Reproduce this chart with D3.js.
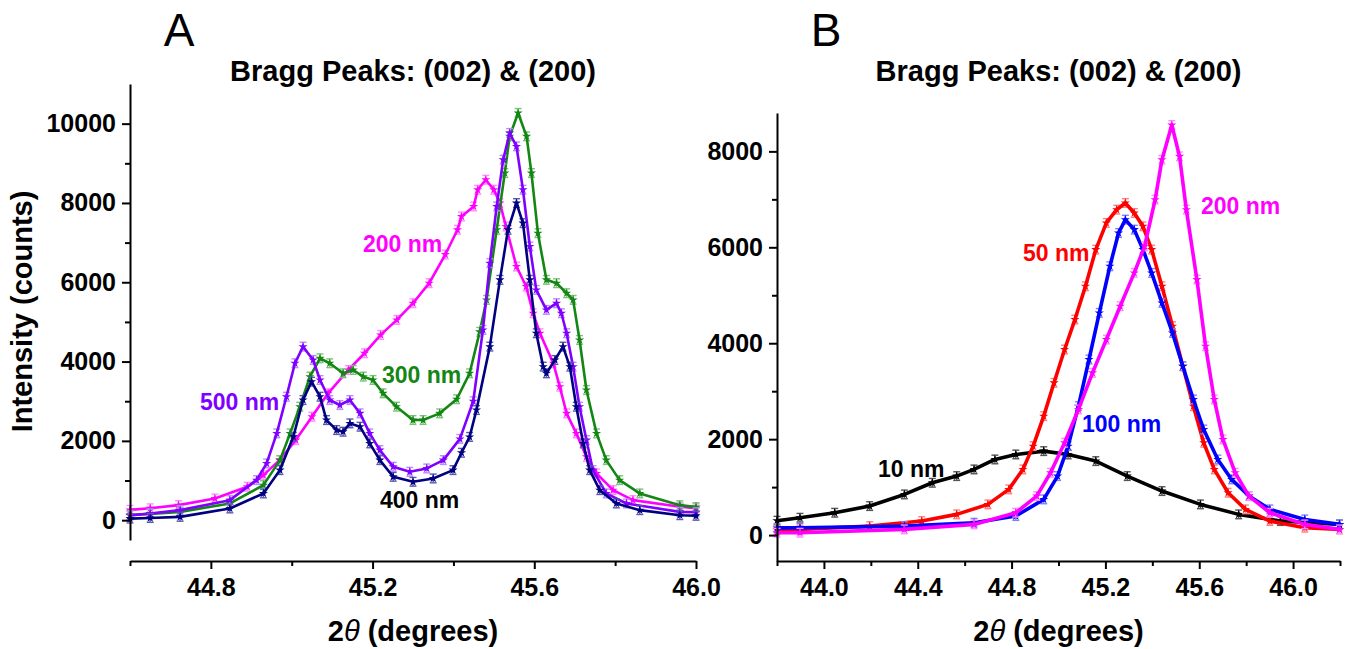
<!DOCTYPE html>
<html><head><meta charset="utf-8">
<script src="https://cdn.jsdelivr.net/npm/d3@7"></script>
<style>body{margin:0;background:#fff}svg{display:block}</style>
</head><body>
<svg id="c" width="1346" height="649"></svg>
<script>
// ---------- Panel A data: 2theta (deg) and intensity (counts) ----------
const a200x = [44.60,44.65,44.72,44.81,44.89,44.93,44.97,45.01,45.05,45.09,45.14,45.18,45.22,45.26,45.30,45.34,45.38,45.41,45.42,45.45,45.46,45.48,45.50,45.515,45.53,45.556,45.58,45.597,45.614,45.647,45.663,45.68,45.704,45.729,45.754,45.795,45.844,45.96,46.0];
const a200y = [260,300,379,547,842,1136,1515,2020,2609,3199,3788,4209,4672,5051,5472,5977,6700,7323,7660,7912,8333,8586,8333,7997,7407,6397,5892,5219,4714,3957,3367,2694,2189,1599,1178,758,505,337,300];

const a300x = [44.60,44.65,44.724,44.847,44.93,44.971,44.996,45.02,45.045,45.07,45.094,45.127,45.152,45.177,45.201,45.226,45.259,45.30,45.325,45.366,45.408,45.44,45.465,45.482,45.507,45.527,45.539,45.56,45.581,45.593,45.609,45.63,45.655,45.68,45.696,45.712,45.729,45.754,45.778,45.811,45.861,45.96,46.0];
const a300y = [130,160,210,421,884,1515,2189,2862,3620,4082,3957,3704,3788,3620,3535,3199,2862,2525,2525,2694,3050,3704,4750,5556,7323,8754,9680,10270,9680,8754,7239,6061,5977,5724,5556,4545,3283,2189,1515,1010,674,379,330];

const a500x = [44.60,44.65,44.724,44.847,44.913,44.938,44.963,44.987,45.008,45.028,45.053,45.07,45.094,45.119,45.144,45.169,45.193,45.218,45.251,45.292,45.334,45.375,45.416,45.449,45.473,45.49,45.507,45.523,45.539,45.556,45.572,45.589,45.605,45.63,45.655,45.667,45.68,45.696,45.712,45.729,45.745,45.778,45.828,45.96,46.0];
const a500y = [120,170,253,505,1010,1431,2189,3114,3957,4377,4040,3535,3030,2904,3030,2694,2189,1768,1347,1220,1305,1515,2050,3000,4798,6482,7912,9091,9765,9427,8333,6902,5808,5303,5472,5219,4714,3872,2862,2020,1263,674,421,210,200];

const a400x = [44.60,44.65,44.724,44.847,44.93,44.971,45.004,45.028,45.049,45.07,45.086,45.111,45.127,45.144,45.169,45.193,45.218,45.251,45.30,45.35,45.399,45.42,45.44,45.457,45.49,45.515,45.535,45.556,45.572,45.589,45.605,45.622,45.63,45.651,45.671,45.688,45.704,45.721,45.737,45.762,45.803,45.861,45.96,46.0];
const a400y = [40,55,84,295,674,1263,2104,3030,3493,3114,2525,2273,2231,2441,2357,1936,1515,1094,968,1052,1263,1700,2100,2778,4377,6061,7323,7997,7492,6061,4714,3872,3704,4040,4377,3872,2862,1936,1263,758,421,253,126,110];

// ---------- Panel B data ----------
const b10x = [43.80,43.898,44.046,44.195,44.343,44.462,44.566,44.64,44.729,44.818,44.937,45.041,45.159,45.293,45.441,45.605,45.768,45.946,46.198];
const b10y = [300,362,466,605,848,1091,1230,1369,1577,1681,1751,1681,1543,1230,918,640,432,293,223];

const b50x = [43.80,43.898,44.195,44.417,44.566,44.699,44.788,44.848,44.892,44.937,44.981,45.026,45.07,45.115,45.159,45.204,45.248,45.285,45.323,45.36,45.397,45.441,45.486,45.53,45.575,45.619,45.664,45.723,45.797,45.901,46.05,46.198];
const b50y = [110,119,188,293,432,640,953,1369,1855,2480,3175,3869,4494,5188,5952,6508,6785,6924,6716,6438,5952,5188,4355,3522,2688,1925,1369,883,536,293,154,119];

const b100x = [43.80,43.898,44.343,44.64,44.818,44.937,44.996,45.041,45.085,45.13,45.174,45.219,45.256,45.285,45.323,45.36,45.397,45.441,45.486,45.53,45.575,45.619,45.679,45.738,45.812,45.901,46.05,46.198];
const b100y = [150,154,188,258,397,744,1230,1855,2688,3661,4633,5605,6299,6577,6369,5952,5466,4841,4216,3522,2827,2202,1577,1161,814,536,327,223];

const b200x = [43.80,43.898,44.343,44.64,44.818,44.907,44.966,45.026,45.085,45.145,45.204,45.263,45.323,45.367,45.412,45.441,45.483,45.516,45.545,45.59,45.627,45.664,45.701,45.753,45.812,45.901,46.05,46.198];
const b200y = [50,50,119,223,466,814,1300,1925,2619,3383,4077,4772,5466,6022,6994,7827,8550,7896,6785,5327,3938,2827,1994,1300,814,466,223,119];

// ---------- Tick values ----------
const aXMajor = [44.8,45.2,45.6,46.0];
const aXMinor = [44.6,45.0,45.4,45.8];
const aYMajor = [0,2000,4000,6000,8000,10000];
const aYMinor = [1000,3000,5000,7000,9000];
const bXMajor = [44.0,44.4,44.8,45.2,45.6,46.0];
const bXMinor = [43.8,44.2,44.6,45.0,45.4,45.8,46.2];
const bYMajor = [0,2000,4000,6000,8000];
const bYMinor = [1000,3000,5000,7000];

const seriesNamesA = ["200 nm","300 nm","500 nm","400 nm"];
const seriesNamesB = ["10 nm","50 nm","100 nm","200 nm"];
const titleText = "Bragg Peaks: (002) & (200)";

// ---------- drawing ----------
const FONT = '"Liberation Sans", Arial, Helvetica, sans-serif';
const svg = d3.select("#c");

function drawPanel(p){
  const x = d3.scaleLinear().domain(p.xDom).range(p.xRange);
  const y = d3.scaleLinear().domain(p.yDom).range(p.yRange);
  const g = svg.append("g");

  p.series.forEach(s => {
    const pts = s.x.map((v,i)=>[v, s.y[i]]);
    const line = d3.line().x(d=>x(d[0])).y(d=>y(d[1]));
    const sg = g.append("g");
    const eb = sg.append("g").attr("stroke", s.err).attr("stroke-width", 1.4);
    pts.forEach(d=>{
      const cx = x(d[0]), yt = y(d[1]+p.err), yb = y(d[1]-p.err);
      eb.append("line").attr("x1",cx).attr("x2",cx).attr("y1",yt).attr("y2",yb);
      eb.append("line").attr("x1",cx-3.5).attr("x2",cx+3.5).attr("y1",yt).attr("y2",yt);
      eb.append("line").attr("x1",cx-3.5).attr("x2",cx+3.5).attr("y1",yb).attr("y2",yb);
    });
    sg.append("path").attr("d", line(pts)).attr("fill","none")
      .attr("stroke", s.color).attr("stroke-width", p.lw).attr("stroke-linejoin","round");
    sg.selectAll("path.m").data(pts).join("path").attr("class","m")
      .attr("transform", d=>`translate(${x(d[0])},${y(d[1])})`)
      .attr("d", d3.symbol(d3.symbolStar, 26)).attr("fill", s.color);
  });

  const styleAxis = sel => {
    sel.selectAll("path.domain").attr("stroke","#000").attr("stroke-width",2);
    sel.selectAll(".tick line").attr("stroke","#000").attr("stroke-width",2);
    sel.selectAll(".tick text").attr("font-family",FONT).attr("font-size",25)
      .attr("font-weight","bold").attr("fill","#000");
  };
  const yAx = g.append("g").attr("transform",`translate(${p.xRange[0]},0)`)
    .call(d3.axisLeft(y).tickValues(p.yMajor).tickSize(8).tickPadding(6).tickSizeOuter(0).tickFormat(d3.format("d")));
  styleAxis(yAx);
  const yMin = g.append("g").attr("transform",`translate(${p.xRange[0]},0)`)
    .call(d3.axisLeft(y).tickValues(p.yMinor).tickSize(5).tickSizeOuter(0).tickFormat(""));
  yMin.select("path.domain").remove(); styleAxis(yMin);

  const xAx = g.append("g").attr("transform",`translate(0,${p.xAxisY})`)
    .call(d3.axisBottom(x).tickValues(p.xMajor).tickSize(8).tickPadding(9).tickSizeOuter(0).tickFormat(d3.format(".1f")));
  styleAxis(xAx);
  const xMin = g.append("g").attr("transform",`translate(0,${p.xAxisY})`)
    .call(d3.axisBottom(x).tickValues(p.xMinor).tickSize(5).tickSizeOuter(0).tickFormat(""));
  xMin.select("path.domain").remove(); styleAxis(xMin);

  const cx = (p.xRange[0]+p.xRange[1])/2;
  const xt = g.append("text").attr("x",cx).attr("y",641).attr("text-anchor","middle")
    .attr("font-family",FONT).attr("font-size",29).attr("font-weight","bold");
  xt.append("tspan").text("2");
  xt.append("tspan").attr("font-style","italic").attr("font-weight","normal").text("θ");
  xt.append("tspan").text(" (degrees)");

  g.append("text").attr("x",cx).attr("y",81).attr("text-anchor","middle")
    .attr("font-family",FONT).attr("font-size",29).attr("font-weight","bold").text(titleText);
  g.append("text").attr("x",p.letterX).attr("y",46).attr("text-anchor","middle")
    .attr("font-family",'"Liberation Sans Narrow", "Liberation Sans", Arial, sans-serif')
    .attr("font-size",46).text(p.letter);

  p.labels.forEach(l=>{
    g.append("text").attr("x",l.x).attr("y",l.y).attr("font-family",FONT)
      .attr("font-size",23).attr("font-weight","bold").attr("fill",l.color).text(l.text);
  });
  return g;
}

const gA = drawPanel({
  xDom:[44.6,46.0], xRange:[130,696], yDom:[-500,11000], yRange:[540,84], xAxisY:561,
  xMajor:aXMajor, xMinor:aXMinor, yMajor:aYMajor, yMinor:aYMinor, err:110, lw:2.6,
  letter:"A", letterX:179,
  series:[
    {x:a200x,y:a200y,color:"#ff00ff",err:"#ff8cff"},
    {x:a300x,y:a300y,color:"#138613",err:"#7cc47c"},
    {x:a500x,y:a500y,color:"#7f00ff",err:"#b98cff"},
    {x:a400x,y:a400y,color:"#000080",err:"#5a5ab0"}
  ],
  labels:[
    {text:seriesNamesA[0],x:363,y:252,color:"#ff00ff"},
    {text:seriesNamesA[1],x:382,y:383,color:"#138613"},
    {text:seriesNamesA[2],x:200,y:410,color:"#7f00ff"},
    {text:seriesNamesA[3],x:380,y:508,color:"#000000"}
  ]
});

gA.append("text").attr("transform","translate(32,311.5) rotate(-90)").attr("text-anchor","middle")
  .attr("font-family",FONT).attr("font-size",29).attr("font-weight","bold").text("Intensity (counts)");

drawPanel({
  xDom:[43.8,46.2], xRange:[777,1340], yDom:[-540,8800], yRange:[561,113], xAxisY:561,
  xMajor:bXMajor, xMinor:bXMinor, yMajor:bYMajor, yMinor:bYMinor, err:90, lw:3.6,
  letter:"B", letterX:826,
  series:[
    {x:b10x,y:b10y,color:"#000000",err:"#555555"},
    {x:b50x,y:b50y,color:"#ff0000",err:"#ff8080"},
    {x:b100x,y:b100y,color:"#0000ff",err:"#8080ff"},
    {x:b200x,y:b200y,color:"#ff00ff",err:"#ff8cff"}
  ],
  labels:[
    {text:seriesNamesB[0],x:878,y:477,color:"#000000"},
    {text:seriesNamesB[1],x:1023,y:261,color:"#ff0000"},
    {text:seriesNamesB[2],x:1082,y:432,color:"#0000ff"},
    {text:seriesNamesB[3],x:1201,y:214,color:"#ff00ff"}
  ]
});
</script>
</body></html>
